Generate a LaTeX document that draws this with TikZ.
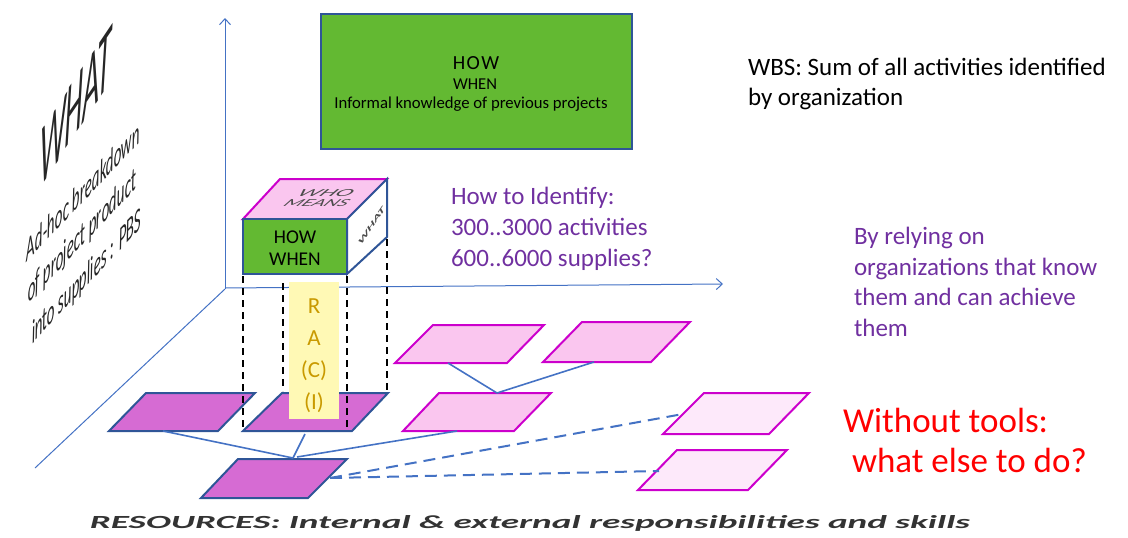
\documentclass[tikz,border=0pt]{standalone}
\usepackage{fontspec}
\setmainfont{Carlito}
\usepackage{graphicx}
\usetikzlibrary{arrows.meta}
\definecolor{axisblue}{HTML}{4472C4}
\definecolor{edgeblue}{HTML}{2F5597}
\definecolor{boxgreen}{HTML}{63B932}
\definecolor{darkpink}{HTML}{D66BD3}
\definecolor{midpink}{HTML}{FAC6EF}
\definecolor{lightpink}{HTML}{FDE9FA}
\definecolor{magentaedge}{HTML}{CC00CC}
\definecolor{paleyellow}{HTML}{FFF9B5}
\definecolor{goldtext}{HTML}{C99A00}
\definecolor{purpletext}{HTML}{7030A0}
\definecolor{redtext}{HTML}{FF0000}
\tikzset{
  axisline/.style={draw=axisblue, line width=1pt},
  darkgram/.style={draw=edgeblue, fill=darkpink, line width=2pt, line join=miter},
  midgram/.style={draw=magentaedge, fill=midpink, line width=2pt, line join=miter},
  lightgram/.style={draw=magentaedge, fill=lightpink, line width=2pt, line join=miter},
  link/.style={draw=axisblue, line width=1.6pt},
  dashlink/.style={draw=axisblue, line width=2pt, dash pattern=on 12pt off 7pt},
  projline/.style={draw=black, line width=2pt, dash pattern=on 7pt off 5pt},
  txt/.style={inner sep=0pt, outer sep=0pt},
  topfacetxt/.style={txt, xslant=0.9, transform shape, text=black!70},
}
\begin{document}
\begin{tikzpicture}[x=1pt, y=-1pt]
\useasboundingbox (0,0) rectangle (1128,538);

% ---------- axes ----------
\coordinate (O) at (225,289);
\coordinate (Ytip) at (225,18);
\coordinate (Xstart) at (225,288);
\coordinate (Xtip) at (723,284);
\coordinate (Zend) at (35,468);
\draw[axisline, -{Straight Barb[length=6pt, width=11pt]}] (O) -- (Ytip);
\draw[axisline, -{Straight Barb[length=6pt, width=11pt]}] (Xstart) -- (Xtip);
\draw[axisline] (O) -- (Zend);

% ---------- top green box ----------
\node[draw=edgeblue, fill=boxgreen, line width=1.5pt, minimum width=311pt, minimum height=135pt, inner sep=0pt] (topbox) at (476.5,81.5) {};
\node[txt, anchor=base, font={\fontsize{20}{22}\selectfont}] (tHOW) at (476,69) {H\kern1.5pt O\kern1.5pt W};
\node[txt, anchor=base, font={\fontsize{16.6}{20}\selectfont}] (tWHEN) at (475,89) {WHEN};
\node[txt, anchor=base, font={\fontsize{16.7}{20}\selectfont}] (tInf) at (471,108) {Informal knowledge of previous projects};

% ---------- texts right (base anchor = last line) ----------
\node[txt, anchor=base west, align=left, font={\fontsize{25}{30}\selectfont}] (wbs) at (748,105.5)
  {WBS: Sum of all activities identified\\by organization};
\node[txt, anchor=base west, align=left, text=purpletext, font={\fontsize{25}{31}\selectfont}] (howid) at (451,266.5)
  {How to Identify:\\300..3000 activities\\600..6000 supplies?};
\node[txt, anchor=base west, align=left, text=purpletext, font={\fontsize{25}{30.5}\selectfont}] (rely) at (854,336)
  {By relying on\\organizations that know\\them and can achieve\\them};
\node[txt, anchor=base west, align=left, text=redtext, font={\fontsize{35}{40}\selectfont}] (notools) at (843,472)
  {Without tools:\\\hspace*{9pt}what else to do?};

% ---------- slanted WHAT / PBS text ----------
\begin{scope}[shift={(39,189)}]
  \node[txt, anchor=base west, cm={0.64,0.95,0.05,2.0,(0,0)}, transform shape, text=black!85, font={\fontsize{45}{47}\selectfont\itshape}] (bigwhat)
    at (0,0) {WHAT};
\end{scope}
\begin{scope}[shift={(27,262)}]
  \node[txt, anchor=base west, cm={0.71,0.75,-0.05,1.55,(0,0)}, transform shape, text=black!85, font={\fontsize{21}{26}\selectfont\itshape}] (pbs1)
    at (0,0) {Ad-hoc breakdown};
\end{scope}
\begin{scope}[shift={(28,303)}]
  \node[txt, anchor=base west, cm={0.71,0.75,-0.05,1.55,(0,0)}, transform shape, text=black!85, font={\fontsize{21}{26}\selectfont\itshape}] (pbs2)
    at (0,0) {of project product};
\end{scope}
\begin{scope}[shift={(32,344)}]
  \node[txt, anchor=base west, cm={0.71,0.75,-0.05,1.55,(0,0)}, transform shape, text=black!85, font={\fontsize{21}{26}\selectfont\itshape}] (pbs3)
    at (0,0) {into supplies : PBS};
\end{scope}

% ---------- bottom parallelograms ----------
\draw[darkgram] (109,431) -- (218,431) -- (255,393) -- (146,393) -- cycle;
\draw[darkgram] (243,431) -- (352,431) -- (388,393) -- (282,393) -- cycle;
\draw[darkgram] (201,498) -- (308,498) -- (347,459) -- (238,459) -- cycle;
\draw[midgram] (403,431) -- (514,431) -- (551,393) -- (439,393) -- cycle;
\draw[midgram] (395,363) -- (507,363) -- (544,325) -- (433,325) -- cycle;
\draw[midgram] (543,362) -- (651,362) -- (690,322) -- (582,322) -- cycle;
\draw[lightgram] (663,434) -- (769,434) -- (809,393) -- (704,393) -- cycle;
\draw[lightgram] (638,490) -- (748,490) -- (787,450) -- (677,450) -- cycle;

% connection points
\coordinate (p1b) at (163,431);
\coordinate (p2b) at (305,434);
\coordinate (hub) at (293,458);
\coordinate (hubr) at (297,457);
\coordinate (p4b) at (457,431);
\coordinate (p4t) at (497,393);
\coordinate (p5b) at (448,363);
\coordinate (p6b) at (594,362);
\coordinate (p3r) at (330,478);
\coordinate (p7l) at (683,414);
\coordinate (p8l) at (659,471);

\draw[link] (p1b) -- (hub);
\draw[link] (p2b) -- (hub);
\draw[link] (hubr) -- (p4b);
\draw[link] (p5b) -- (p4t);
\draw[link] (p6b) -- (p4t);
\draw[dashlink] (p3r) -- (p7l);
\draw[dashlink] (p3r) -- (p8l);

% ---------- yellow RACI strip ----------
\node[fill=paleyellow, minimum width=50pt, minimum height=137pt, inner sep=0pt] (raci) at (314,350.5) {};
\node[txt, anchor=base, text=goldtext, align=center, font={\fontsize{23}{32}\selectfont}] (racitxt) at (314,409)
  {R\\A\\(C)\\(I)};

% ---------- cube ----------
\draw[fill=midpink, draw=magentaedge, line width=2pt, line join=miter] (243,219) -- (280,179) -- (387,179) -- (347,219) -- cycle;
\draw[fill=white, draw=edgeblue, line width=2pt, line join=miter] (347,219) -- (387,179) -- (387,237) -- (347,274) -- cycle;
\node[draw=edgeblue, fill=boxgreen, line width=2pt, minimum width=104pt, minimum height=55pt, inner sep=0pt] (front) at (295,246.5) {};
\node[txt, anchor=base, align=center, font={\fontsize{19.5}{21.5}\selectfont}] (frontxt) at (295,265)
  {HOW\\WHEN};
\node[topfacetxt] (whotxt) at (326,193) {\resizebox{54pt}{7pt}{\itshape WHO}};
\node[topfacetxt] (meanstxt) at (317,203.5) {\resizebox{63pt}{7pt}{\itshape MEANS}};
\begin{scope}[shift={(361,245)}]
  \node[txt, anchor=base west, cm={0.95,1.4,-0.5,0.5,(0,0)}, transform shape, text=black!70, font={\fontsize{10}{12}\selectfont\bfseries\itshape}] (facewhat)
    at (0,0) {WHAT};
\end{scope}

% ---------- projection dashed lines ----------
\coordinate (c1t) at (243,276);
\coordinate (c1b) at (243,429);
\coordinate (c2t) at (283,283);
\coordinate (c2b) at (283,391);
\coordinate (c3t) at (347,276);
\coordinate (c3b) at (347,427);
\coordinate (c4t) at (387,239);
\coordinate (c4b) at (387,391);
\draw[projline] (c1t) -- (c1b);
\draw[projline] (c2t) -- (c2b);
\draw[projline] (c3t) -- (c3b);
\draw[projline] (c4t) -- (c4b);

% ---------- resources ----------
\node[txt, text=black!80] (resources) at (530,523)
  {\resizebox{880pt}{13pt}{\bfseries\itshape RESOURCES: Internal \& external responsibilities and skills}};
\end{tikzpicture}
\end{document}
